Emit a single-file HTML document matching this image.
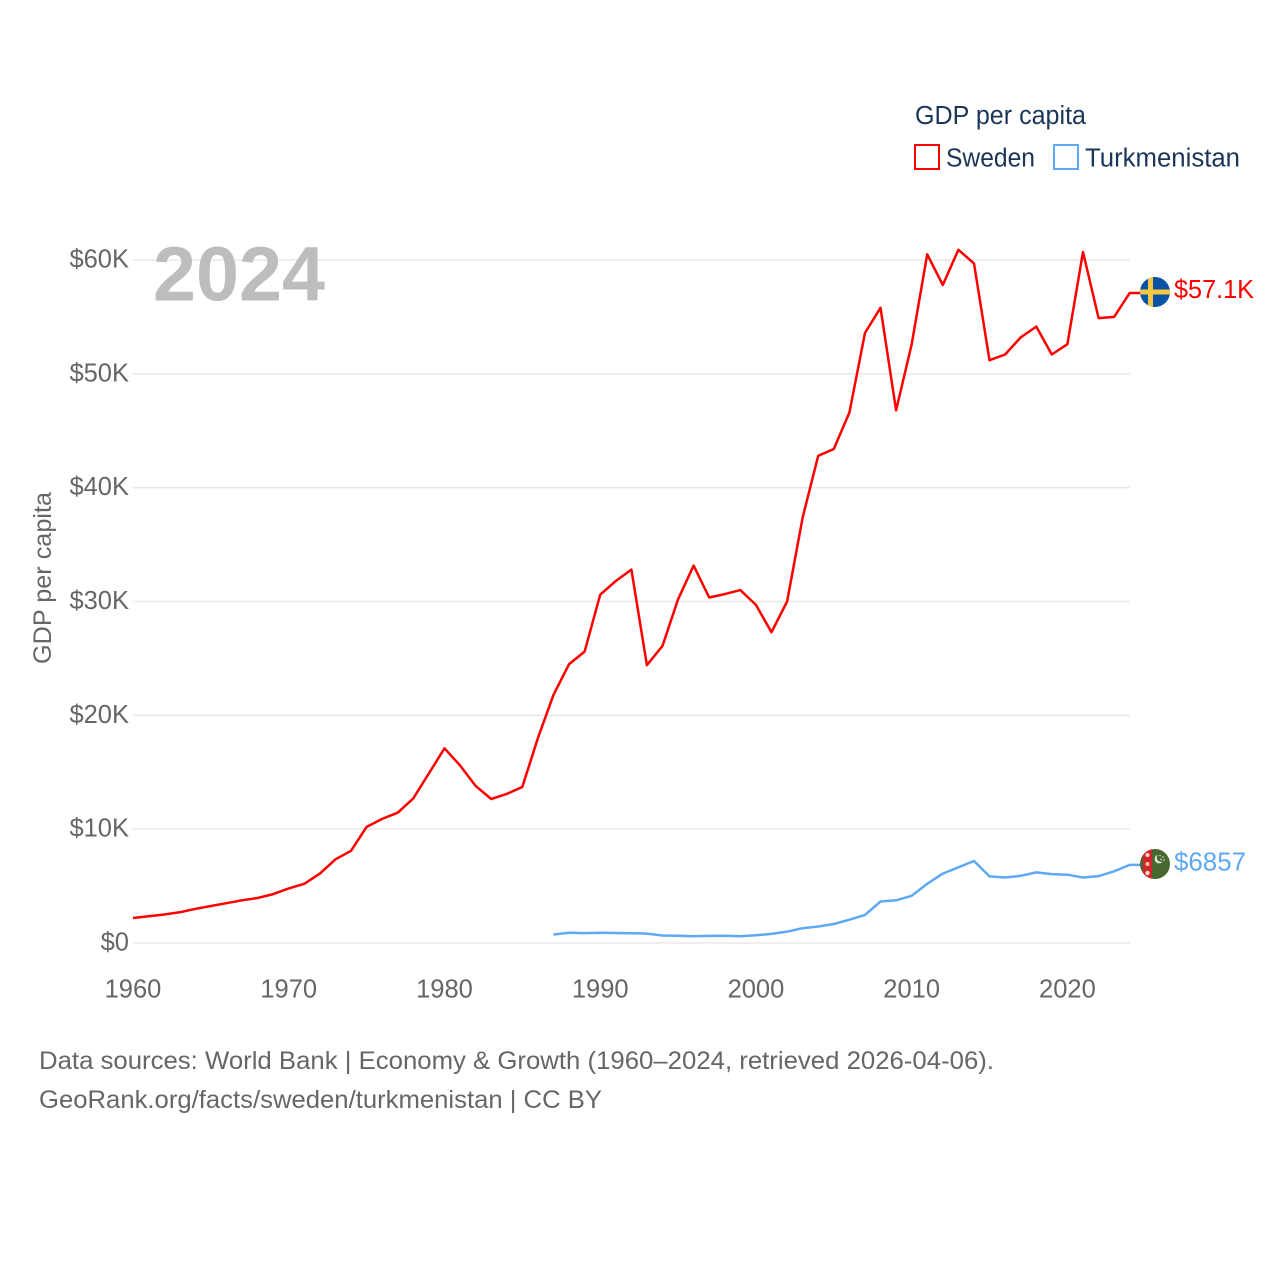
<!DOCTYPE html>
<html lang="en">
<head>
<meta charset="utf-8">
<title>GDP per capita: Sweden and Turkmenistan</title>
<style>
html,body{margin:0;padding:0;background:#fff;width:1280px;height:1280px;overflow:hidden}
svg{display:block}
text{font-family:"Liberation Sans",sans-serif}
</style>
</head>
<body>
<svg id="chart" xmlns="http://www.w3.org/2000/svg" width="1280" height="1280" viewBox="0 0 1280 1280">
  <defs>
    <clipPath id="clip-se"><circle cx="1155" cy="292" r="15"/></clipPath>
    <clipPath id="clip-tm"><circle cx="1155" cy="864" r="15"/></clipPath>
  </defs>
  <rect width="1280" height="1280" fill="#fff"/>
  <g id="grid"></g>
  <g id="y-ticks"></g>
  <g id="x-ticks"></g>
  <text x="153" y="300.5" font-size="77" font-weight="700" fill="#bdbdbd" textLength="172" lengthAdjust="spacingAndGlyphs">2024</text>
  <text transform="translate(51,578) rotate(-90)" text-anchor="middle" font-size="25" fill="#666" textLength="172" lengthAdjust="spacingAndGlyphs">GDP per capita</text>
  <g id="series"></g>

  <g clip-path="url(#clip-se)">
    <rect x="1140" y="277" width="30" height="30" fill="#0a52a5"/>
    <rect x="1148" y="277" width="5" height="30" fill="#f5c842"/>
    <rect x="1140" y="289.5" width="30" height="5" fill="#f5c842"/>
  </g>
  <g clip-path="url(#clip-tm)">
    <rect x="1140" y="849" width="30" height="30" fill="#47682f"/>
    <rect x="1143" y="849" width="9" height="30" fill="#d2232f"/>
    <circle cx="1147.5" cy="855" r="2" fill="#fbe3c0"/>
    <circle cx="1147.5" cy="864" r="2" fill="#f6c8a0"/>
    <circle cx="1147.5" cy="873" r="2.2" fill="#fbe3c0"/>
    <circle cx="1159" cy="859" r="4.4" fill="#dfe6d5"/>
    <circle cx="1161" cy="857.6" r="4.2" fill="#47682f"/>
    <circle cx="1160" cy="855.5" r=".8" fill="#dfe6d5"/>
    <circle cx="1163" cy="857" r=".8" fill="#dfe6d5"/>
    <circle cx="1164" cy="860" r=".8" fill="#dfe6d5"/>
    <circle cx="1161" cy="859.4" r=".8" fill="#dfe6d5"/>
  </g>
  <text x="1174" y="298" font-size="25.5" fill="#ff0000" textLength="80" lengthAdjust="spacingAndGlyphs">$57.1K</text>
  <text x="1174" y="870.5" font-size="25.5" fill="#5ea9f3" textLength="72" lengthAdjust="spacingAndGlyphs">$6857</text>

  <g>
    <text x="915" y="124" font-size="25.5" fill="#1b3557" textLength="171" lengthAdjust="spacingAndGlyphs">GDP per capita</text>
    <rect x="915" y="145" width="24" height="24" fill="none" stroke="#ff0000" stroke-width="2"/>
    <text x="946" y="166.5" font-size="25.5" fill="#1b3557" textLength="89" lengthAdjust="spacingAndGlyphs">Sweden</text>
    <rect x="1054" y="145" width="24" height="24" fill="none" stroke="#5ea9f3" stroke-width="2"/>
    <text x="1085" y="166.5" font-size="25.5" fill="#1b3557" textLength="155" lengthAdjust="spacingAndGlyphs">Turkmenistan</text>
  </g>

  <g>
    <text x="39" y="1069" font-size="25" fill="#666" textLength="955" lengthAdjust="spacingAndGlyphs">Data sources: World Bank | Economy &amp; Growth (1960–2024, retrieved 2026-04-06).</text>
    <text x="39" y="1108" font-size="25" fill="#666" textLength="563" lengthAdjust="spacingAndGlyphs">GeoRank.org/facts/sweden/turkmenistan | CC BY</text>
  </g>
</svg>
<script>
var swedenStartYear = 1960;
var swedenValues = [2.2,2.35,2.5,2.7,3.0,3.25,3.5,3.75,3.95,4.3,4.8,5.2,6.1,7.35,8.1,10.2,10.9,11.45,12.7,14.9,17.1,15.6,13.8,12.65,13.1,13.7,18.0,21.8,24.5,25.6,30.6,31.8,32.8,24.4,26.1,30.2,33.15,30.35,30.65,31.0,29.7,27.3,30.0,37.4,42.8,43.4,46.6,53.6,55.8,46.8,52.6,60.5,57.8,60.9,59.7,51.2,51.7,53.2,54.15,51.7,52.6,60.7,54.9,55.0,57.1];
var turkmenistanStartYear = 1987;
var turkmenistanValues = [0.75,0.9,0.87,0.9,0.88,0.86,0.83,0.66,0.63,0.6,0.62,0.63,0.6,0.68,0.8,1.0,1.3,1.45,1.67,2.05,2.47,3.65,3.75,4.15,5.2,6.1,6.65,7.2,5.85,5.75,5.9,6.2,6.05,6.0,5.75,5.88,6.3,6.86];
var yTickValues = [0,10,20,30,40,50,60];
var yTickLabels = ["$0","$10K","$20K","$30K","$40K","$50K","$60K"];
var xTickYears = [1960,1970,1980,1990,2000,2010,2020];

var NS = 'http://www.w3.org/2000/svg';
function xScale(year){ return 133 + (year - 1960) * (1129.7 - 133) / 64; }
function yScale(v){ return 943 - v * (943 - 260) / 60; }
function make(tag, attrs, parent){
  var el = document.createElementNS(NS, tag);
  for (var k in attrs) el.setAttribute(k, attrs[k]);
  parent.appendChild(el);
  return el;
}
var gridG = document.getElementById('grid');
var yG = document.getElementById('y-ticks');
var xG = document.getElementById('x-ticks');
var seriesG = document.getElementById('series');

yTickValues.forEach(function(v, i){
  var line = make('line', {x1: 133, x2: 1130, y1: yScale(v), y2: yScale(v), stroke: '#e9e9e9', 'stroke-width': 1.5}, gridG);
  
  
  var t = make('text', {x: 129, y: yScale(v) + 7.5, 'text-anchor': 'end', 'font-size': 25.5, fill: '#666'}, yG);
  
  
  t.textContent = yTickLabels[i];
});
xTickYears.forEach(function(year){
  var t = make('text', {x: xScale(year), y: 997.5, 'text-anchor': 'middle', 'font-size': 25.5, fill: '#666'}, xG);
  
  
  t.textContent = year;
});
function drawSeries(values, startYear, color, name){
  var pts = values.map(function(v, i){ return xScale(startYear + i).toFixed(1) + ',' + yScale(v).toFixed(1); });
  var last = values[values.length - 1];
  pts.push('1142,' + yScale(last).toFixed(1));
  var line = make('polyline', {points: pts.join(' '), fill: 'none', stroke: color, 'stroke-width': 2.5, 'stroke-linejoin': 'round'}, seriesG);
  
  
}
drawSeries(swedenValues, swedenStartYear, '#ff0000', 'sweden-line');
drawSeries(turkmenistanValues, turkmenistanStartYear, '#5ea9f3', 'turkmenistan-line');
</script>
</body>
</html>
